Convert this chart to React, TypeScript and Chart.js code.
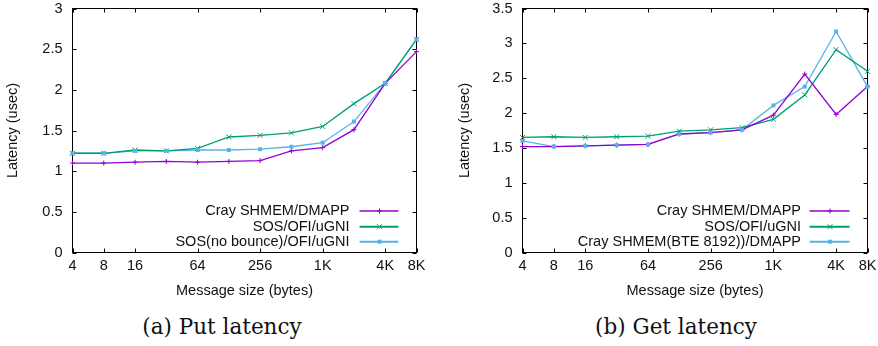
import React, { useEffect, useRef } from 'react';
import { Chart, registerables } from 'chart.js';

Chart.register(...registerables);

// ---------- data ----------
const sizes = [4, 8, 16, 32, 64, 128, 256, 512, 1024, 2048, 4096, 8192];
const xTickValues = [4, 8, 16, 64, 256, 1024, 4096, 8192];
const xTickLabels = ['4', '8', '16', '64', '256', '1K', '4K', '8K'];

const putYTicks = [0, 0.5, 1, 1.5, 2, 2.5, 3];
const getYTicks = [0, 0.5, 1, 1.5, 2, 2.5, 3, 3.5];

const putLabels = ['Cray SHMEM/DMAPP', 'SOS/OFI/uGNI', 'SOS(no bounce)/OFI/uGNI'];
const putCray = [1.10, 1.10, 1.11, 1.12, 1.11, 1.12, 1.13, 1.25, 1.29, 1.51, 2.08, 2.47];
const putSos = [1.22, 1.22, 1.26, 1.25, 1.28, 1.42, 1.44, 1.47, 1.55, 1.83, 2.08, 2.62];
const putSosNoBounce = [1.22, 1.22, 1.25, 1.25, 1.26, 1.26, 1.27, 1.30, 1.35, 1.61, 2.08, 2.62];

const getLabels = ['Cray SHMEM/DMAPP', 'SOS/OFI/uGNI', 'Cray SHMEM(BTE 8192))/DMAPP'];
const getCray = [1.52, 1.52, 1.53, 1.54, 1.55, 1.70, 1.72, 1.76, 1.97, 2.56, 1.98, 2.38];
const getSos = [1.65, 1.66, 1.65, 1.66, 1.67, 1.74, 1.76, 1.79, 1.91, 2.26, 2.91, 2.60];
const getCrayBte = [1.60, 1.52, 1.53, 1.54, 1.55, 1.70, 1.72, 1.76, 2.11, 2.38, 3.17, 2.38];

const xTitle = 'Message size (bytes)';
const yTitle = 'Latency (usec)';
const captionA = '(a) Put latency';
const captionB = '(b) Get latency';

// ---------- styles ----------
const COLORS = ['#9400d3', '#009e73', '#56b4e9'];
const MARKERS = ['plus', 'cross', 'square'];
const FONT = '"Liberation Sans", Arial, Helvetica, sans-serif';
const FONT_SIZE = 14.5;
const TEXT = '#111';

function drawMarker(ctx: CanvasRenderingContext2D, kind: string, x: number, y: number, color: string) {
  ctx.save();
  ctx.strokeStyle = color;
  ctx.fillStyle = color;
  ctx.lineWidth = 1;
  const r = 2.5;
  ctx.beginPath();
  if (kind === 'plus') {
    ctx.moveTo(x - r, y); ctx.lineTo(x + r, y);
    ctx.moveTo(x, y - r); ctx.lineTo(x, y + r);
    ctx.stroke();
  } else if (kind === 'cross') {
    ctx.moveTo(x - r, y - r); ctx.lineTo(x + r, y + r);
    ctx.moveTo(x - r, y + r); ctx.lineTo(x + r, y - r);
    ctx.stroke();
  } else {
    ctx.fillRect(x - 2, y - 2, 4, 4);
  }
  ctx.restore();
}

const framePlugin = {
  id: 'frame',
  beforeDatasetsDraw(chart: any, _args: any, opts: any) {
    const { ctx, chartArea: a, scales } = chart;
    ctx.save();
    ctx.strokeStyle = '#000';
    ctx.lineWidth = 1;
    ctx.strokeRect(a.left, a.top, a.right - a.left, a.bottom - a.top);
    const tl = 4;
    ctx.beginPath();
    for (const v of opts.xTicks as number[]) {
      const px = Math.round(scales.x.getPixelForValue(v)) + 0.5;
      ctx.moveTo(px, a.bottom); ctx.lineTo(px, a.bottom - tl);
      ctx.moveTo(px, a.top); ctx.lineTo(px, a.top + tl);
    }
    for (const v of opts.yTicks as number[]) {
      const py = Math.round(scales.y.getPixelForValue(v)) + 0.5;
      ctx.moveTo(a.left, py); ctx.lineTo(a.left + tl, py);
      ctx.moveTo(a.right, py); ctx.lineTo(a.right - tl, py);
    }
    ctx.stroke();
    ctx.restore();
  },
  afterDraw(chart: any, _args: any, opts: any) {
    const { ctx, chartArea: a } = chart;
    ctx.save();
    ctx.fillStyle = TEXT;
    ctx.font = `${FONT_SIZE}px ${FONT}`;
    // axis titles
    ctx.textAlign = 'center';
    ctx.textBaseline = 'middle';
    ctx.fillText(xTitle, (a.left + a.right) / 2, opts.xTitleY);
    ctx.save();
    ctx.translate(opts.yTitleX, (a.top + a.bottom) / 2);
    ctx.rotate(-Math.PI / 2);
    ctx.fillText(yTitle, 0, 0);
    ctx.restore();
    // legend
    const lg = opts.legend;
    chart.data.datasets.forEach((ds: any, i: number) => {
      const y = lg.rows[i];
      ctx.fillStyle = TEXT;
      ctx.textAlign = 'right';
      ctx.textBaseline = 'middle';
      ctx.fillText(ds.label, lg.textRight, y);
      ctx.strokeStyle = ds.borderColor;
      ctx.lineWidth = i === 0 ? 1.5 : 2;
      ctx.beginPath();
      ctx.moveTo(lg.x1, y);
      ctx.lineTo(lg.x2, y);
      ctx.stroke();
      drawMarker(ctx, MARKERS[i], lg.marker, y, ds.borderColor);
    });
    ctx.restore();
  },
};

const markerPlugin = {
  id: 'markers',
  afterDatasetsDraw(chart: any) {
    const ctx = chart.ctx;
    chart.data.datasets.forEach((ds: any, i: number) => {
      const meta = chart.getDatasetMeta(i);
      meta.data.forEach((pt: any) => drawMarker(ctx, MARKERS[i], pt.x, pt.y, ds.borderColor));
    });
  },
};

interface PanelProps {
  width: number;
  height: number;
  series: number[][];
  labels: string[];
  yMax: number;
  yTicks: number[];
  area: { left: number; right: number; top: number; bottom: number };
  yTitleX: number;
  legend: { rows: number[]; textRight: number; x1: number; x2: number; marker: number };
}

function Panel(p: PanelProps) {
  const ref = useRef<HTMLCanvasElement>(null);
  useEffect(() => {
    if (!ref.current) return;
    const chart = new Chart(ref.current, {
      type: 'line',
      data: {
        datasets: p.series.map((vals, i) => ({
          label: p.labels[i],
          data: sizes.map((s, j) => ({ x: s, y: vals[j] })),
          borderColor: COLORS[i],
          backgroundColor: COLORS[i],
          borderWidth: 1.3,
          pointRadius: 0,
          tension: 0,
          clip: false as any,
        })),
      },
      options: {
        animation: false,
        responsive: false,
        maintainAspectRatio: false,
        devicePixelRatio: 1,
        events: [],
        layout: {
          padding: { left: 0, top: p.area.top, right: p.width - p.area.right, bottom: 0 },
        },
        font: { family: FONT, size: FONT_SIZE },
        plugins: {
          legend: { display: false },
          tooltip: { enabled: false },
          frame: {
            xTicks: xTickValues,
            yTicks: p.yTicks,
            xTitleY: 290.5,
            yTitleX: p.yTitleX,
            legend: p.legend,
          },
        } as any,
        scales: {
          x: {
            type: 'logarithmic',
            min: 4,
            max: 8192,
            grid: { display: false, drawTicks: false },
            border: { display: false },
            afterFit: (s: any) => {
              s.height = p.height - p.area.bottom;
              s.paddingLeft = 0;
              s.paddingRight = 0;
            },
            afterBuildTicks: (s: any) => { s.ticks = xTickValues.map((v) => ({ value: v })); },
            ticks: {
              autoSkip: false,
              maxRotation: 0,
              padding: 5,
              color: TEXT,
              font: { family: FONT, size: FONT_SIZE },
              callback: (v: any) => {
                const k = xTickValues.indexOf(Number(v));
                return k >= 0 ? xTickLabels[k] : '';
              },
            },
          },
          y: {
            type: 'linear',
            min: 0,
            max: p.yMax,
            grid: { display: false, drawTicks: false },
            border: { display: false },
            afterFit: (s: any) => {
              s.width = p.area.left;
              s.paddingTop = 0;
              s.paddingBottom = 0;
            },
            afterBuildTicks: (s: any) => { s.ticks = p.yTicks.map((v) => ({ value: v })); },
            ticks: {
              padding: 10,
              color: TEXT,
              font: { family: FONT, size: FONT_SIZE },
              callback: (v: any) => String(v),
            },
          },
        },
      },
      plugins: [framePlugin, markerPlugin],
    } as any);
    return () => chart.destroy();
  }, []);
  return <canvas ref={ref} width={p.width} height={p.height} style={{ width: p.width, height: p.height, display: 'block' }} />;
}

const captionStyle: React.CSSProperties = {
  position: 'absolute',
  top: 316,
  width: 300,
  textAlign: 'center',
  fontFamily: '"DejaVu Serif", "Liberation Serif", serif',
  fontSize: 21.5,
  lineHeight: '22px',
  color: '#111',
  whiteSpace: 'nowrap',
};

export default function App() {
  useEffect(() => {
    document.body.style.margin = '0';
  }, []);
  return (
    <div style={{ position: 'absolute', left: 0, top: 0, width: 878, height: 346, background: '#fff', overflow: 'hidden' }}>
      <div style={{ position: 'absolute', left: 0, top: 0 }}>
        <Panel
          width={440}
          height={300}
          series={[putCray, putSos, putSosNoBounce]}
          labels={putLabels}
          yMax={3}
          yTicks={putYTicks}
          area={{ left: 72.5, right: 416.5, top: 8.5, bottom: 252.5 }}
          yTitleX={12.5}
          legend={{ rows: [211, 226.7, 241.7], textRight: 349.5, x1: 359.5, x2: 398.5, marker: 379.5 }}
        />
      </div>
      <div style={{ position: 'absolute', left: 440, top: 0 }}>
        <Panel
          width={438}
          height={300}
          series={[getCray, getSos, getCrayBte]}
          labels={getLabels}
          yMax={3.5}
          yTicks={getYTicks}
          area={{ left: 82.5, right: 427.5, top: 8.5, bottom: 252.5 }}
          yTitleX={25}
          legend={{ rows: [211, 226.7, 241.7], textRight: 361, x1: 369.5, x2: 409.5, marker: 390 }}
        />
      </div>
      <div style={{ ...captionStyle, left: 222 - 150 }}>{captionA}</div>
      <div style={{ ...captionStyle, left: 676 - 150 }}>{captionB}</div>
    </div>
  );
}
